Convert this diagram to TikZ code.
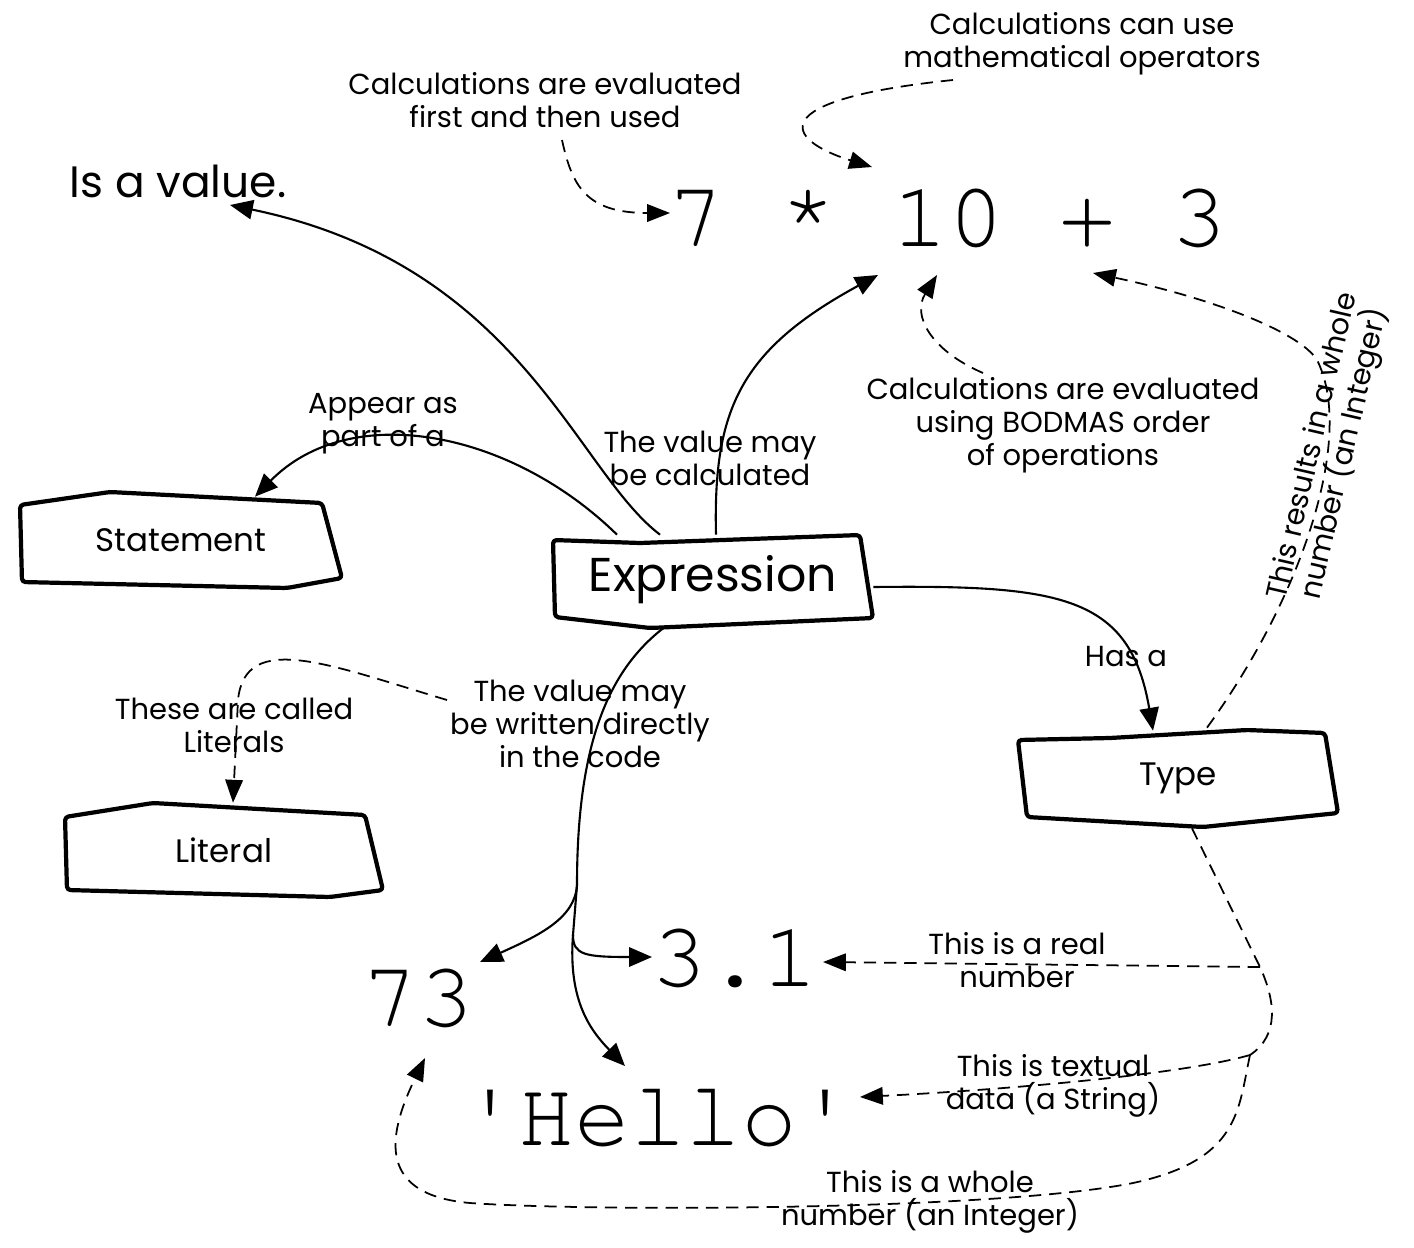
\documentclass[tikz,border=0pt]{standalone}
\usepackage{fontspec}
\setmainfont{Poppins}
\setmonofont{TeX Gyre Cursor}
\usetikzlibrary{arrows.meta,calc}

\tikzset{
  note/.style={align=center,inner sep=1pt,font=\fontsize{16.5}{18.7}\selectfont},
  big/.style={font=\fontsize{27}{30}\selectfont},
  code/.style={inner sep=0pt,font=\fontsize{53}{53}\selectfont\ttfamily},
  box/.style={minimum width=6.4cm,minimum height=1.8cm,font=\fontsize{18.5}{21}\selectfont},
  outline/.style={line width=2.4pt,rounded corners=2pt,line join=round},
  wire/.style={line width=1.2pt},
  link/.style={wire,-{Triangle[length=13pt,width=11pt]}},
  dwire/.style={line width=1pt,dash pattern=on 7pt off 4.5pt},
  hint/.style={dwire,-{Triangle[length=13pt,width=10pt]}},
}

\begin{document}
\begin{tikzpicture}[x=0.02cm,y=-0.02cm]
  \useasboundingbox (0,0) rectangle (1414,1248);

  \draw (181,540) node[box](statement) {Statement};
  \draw (713,580) node[box,big](expr) {Expression};
  \draw (1178,778) node[box](type) {Type};
  \draw (224,850) node[box](literal) {Literal};

  \draw[outline,shift={(statement.center)}] (-161,-35) -- (-71,-48) -- (141,-37) -- (161,38) -- (106,48) -- (-159,42) -- cycle;
  \draw[outline,shift={(expr.center)}] (-160,-40) -- (-73,-37) -- (147,-45) -- (160,38) -- (-63,48) -- (-158,37) -- cycle;
  \draw[outline,shift={(type.center)}] (-160,-38) -- (-68,-40) -- (69,-48) -- (147,-45) -- (160,35) -- (25,49) -- (-151,39) -- cycle;
  \draw[outline,shift={(literal.center)}] (-159,-33) -- (-71,-47) -- (141,-35) -- (159,40) -- (106,47) -- (-157,40) -- cycle;

  \draw (948,218) node[code](calc) {7 * 10 + 3};
  \draw (735,958) node[code](real) {3.1};
  \draw (418,998) node[code](whole) {73};
  \draw (658,1118) node[code](hello) {\textquotesingle Hello\textquotesingle};

  \draw (178,181) node[note,font=\fontsize{25}{28}\selectfont](isvalue) {Is a value.};
  \draw (545,100) node[note](lblfirst) {Calculations are evaluated\\first and then used};
  \draw (1082,44) node[note](lblops) {Calculations can use\\mathematical operators};
  \draw (383,424) node[note](lblappear) {Appear as\\part of a};
  \draw (710,458) node[note](lblcalcd) {The value may\\be calculated};
  \draw (1063,425) node[note](lblbodmas) {Calculations are evaluated\\using BODMAS order\\of operations};
  \draw (1330,450) node[note,rotate=77](lblresult) {This results in a whole\\number (an Integer)};
  \draw (1126,657) node[note](lblhas) {Has a};
  \draw (234,725) node[note](lblcalled) {These are called\\Literals};
  \draw (580,724) node[note](lblwritten) {The value may\\be written directly\\in the code};
  \draw (1017,960) node[note](lblreal) {This is a real\\number};
  \draw (1053,1086) node[note](lbltext) {This is textual\\data (a String)};
  \draw (930,1202) node[note](lblint) {This is a whole\\number (an Integer)};

  \draw[link] ($(expr.north)+(-53,0)$) .. controls (575,470) and (520,265) .. ($(isvalue)+(52,24)$);
  \draw[link] ($(expr.north)+(-96,0)$) .. controls (510,430) and (350,400) .. ($(statement.north)+(74,2)$);
  \draw[link] ($(expr.north)+(3,0)$) .. controls (713,410) and (740,350) .. ($(calc)+(-70,57)$);
  \draw[link] ($(expr.east)+(0,7)$) .. controls (1060,585) and (1130,595) .. ($(type.north)+(-25,-2)$);

  \draw[wire] ($(expr.south)+(-50,3)$) .. controls (610,670) and (577,740) .. (577,885) coordinate (fork1) -- (573,935) coordinate (fork2);
  \draw[link] (fork1) .. controls (575,918) and (540,935) .. ($(whole)+(62,-36)$);
  \draw[link] (fork2) .. controls (573,955) and (585,957) .. ($(real)+(-83,-1)$);
  \draw[link] (fork2) .. controls (568,1000) and (590,1030) .. ($(hello)+(-33,-52)$);

  \draw[hint] ($(lblfirst)+(17,40)$) .. controls (572,185) and (585,213) .. ($(calc)+(-278,-5)$);
  \draw[hint] ($(lblops)+(-129,36)$) .. controls (760,100) and (785,140) .. ($(calc)+(-76,-51)$);
  \draw[hint] ($(lblbodmas)+(-80,-52)$) .. controls (930,350) and (912,315) .. ($(calc)+(-11,57)$);
  \draw[hint] ($(type.north)+(29,-5)$) .. controls (1300,600) and (1355,440) .. (1318,362) .. controls (1305,335) and (1220,300) .. ($(calc)+(145,55)$);
  \draw[hint] ($(lblwritten)+(-133,-24)$) .. controls (330,665) and (245,630) .. (238,700) -- ($(literal.north)+(9,-2)$);

  \draw[dwire] ($(type.south)+(14,5)$) -- (1260,967) coordinate (tfork1) .. controls (1275,1000) and (1280,1035) .. (1250,1055) coordinate (tfork2);
  \draw[hint] (tfork1) -- ($(real)+(88,4)$);
  \draw[hint] (tfork2) .. controls (1180,1075) and (1000,1090) .. ($(hello)+(202,-21)$);
  \draw[hint] (tfork2) .. controls (1238,1110) and (1240,1160) .. (1133,1183) .. controls (1000,1210) and (600,1212) .. (470,1203) .. controls (380,1195) and (385,1140) .. ($(whole)+(7,60)$);
\end{tikzpicture}
\end{document}
